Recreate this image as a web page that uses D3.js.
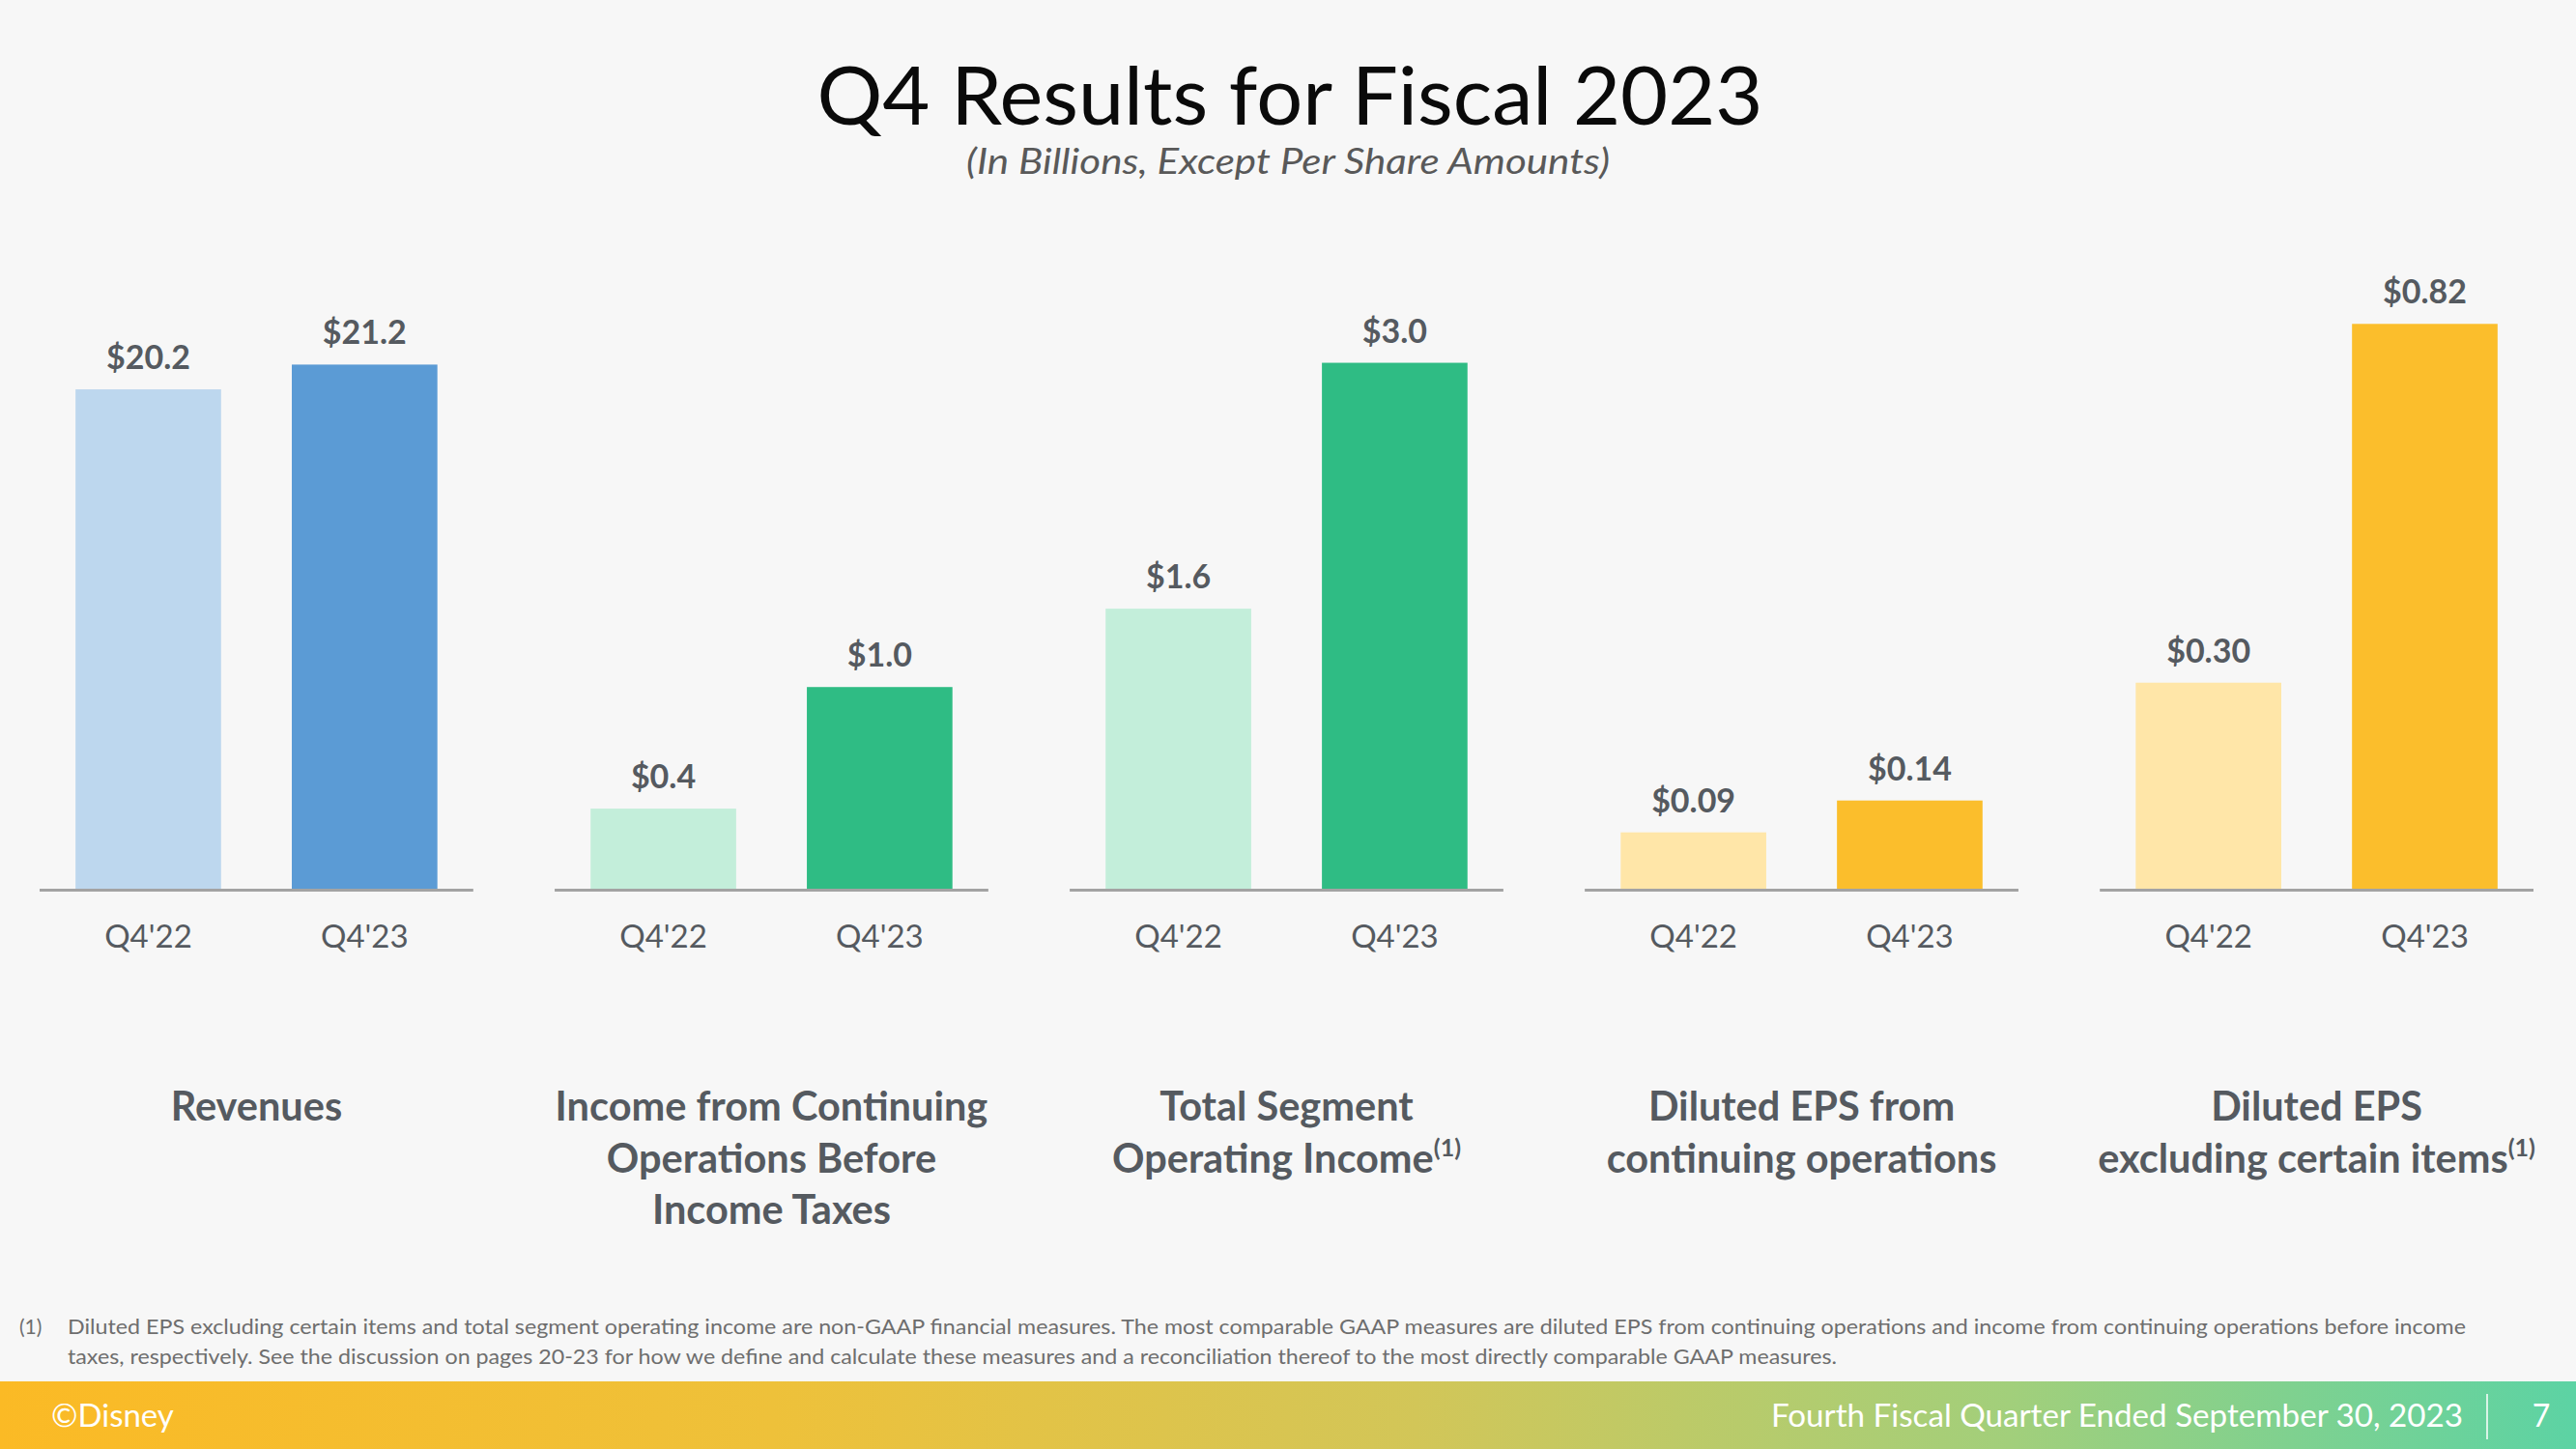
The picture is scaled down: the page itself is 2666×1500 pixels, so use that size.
<!DOCTYPE html>
<html>
<head>
<meta charset="utf-8">
<script src="https://cdn.jsdelivr.net/npm/d3@7"></script>
<style>
  html, body { margin: 0; padding: 0; background: #F7F7F7; }
  svg { display: block; }
</style>
</head>
<body>
<svg id="chart" width="2666" height="1500"></svg>
<script>
// ---------- DATA ----------
const periods = ["Q4'22", "Q4'23"];
const panelTitles = [
  ["Revenues"],
  ["Income from Continuing", "Operations Before", "Income Taxes"],
  ["Total Segment", "Operating Income"],
  ["Diluted EPS from", "continuing operations"],
  ["Diluted EPS", "excluding certain items"]
];
const panelFootnoteMark = [false, false, true, false, true];
const valuesQ422 = [20.2, 0.4, 1.6, 0.09, 0.30];
const valuesQ423 = [21.2, 1.0, 3.0, 0.14, 0.82];
const valueDecimals = [1, 1, 1, 2, 2];
// each panel has its own vertical scale in the original slide
const panelScaleMax = [23.4, 2.86, 3.30, 0.91, 0.84];
const lightColors = ["#BDD7EE", "#C3EEDA", "#C3EEDA", "#FFE6A8", "#FFE6A8"];
const darkColors  = ["#5B9BD5", "#2FBC84", "#2FBC84", "#FBBE2C", "#FBBE2C"];

const titleText = "Q4 Results for Fiscal 2023";
const subtitleText = "(In Billions, Except Per Share Amounts)";
const footnoteMark = "(1)";
const footnoteLines = [
  "Diluted EPS excluding certain items and total segment operating income are non-GAAP financial measures. The most comparable GAAP measures are diluted EPS from continuing operations and income from continuing operations before income",
  "taxes, respectively. See the discussion on pages 20-23 for how we define and calculate these measures and a reconciliation thereof to the most directly comparable GAAP measures."
];
const footerLeft = "©Disney";
const footerRight = "Fourth Fiscal Quarter Ended September 30, 2023";
const pageNumber = "7";

// ---------- LAYOUT ----------
const W = 2666, H = 1500;
const svg = d3.select("#chart");
const FONT = "Lato, 'Open Sans', sans-serif";
const TXT = "#555A60";

svg.append("rect").attr("width", W).attr("height", H).attr("fill", "#F7F7F7");

// Title
svg.append("text")
  .attr("x", 1335).attr("y", 129)
  .attr("text-anchor", "middle")
  .attr("font-family", FONT).attr("font-size", 84).attr("font-weight", 400)
  .attr("fill", "#0A0A0A")
  .attr("textLength", 979).attr("lengthAdjust", "spacingAndGlyphs")
  .text(titleText);

svg.append("text")
  .attr("x", 1333).attr("y", 180)
  .attr("text-anchor", "middle")
  .attr("font-family", FONT).attr("font-size", 36).attr("font-style", "italic")
  .attr("fill", "#595959")
  .attr("textLength", 666).attr("lengthAdjust", "spacingAndGlyphs")
  .text(subtitleText);

// Panels
const panelIdx = d3.range(panelTitles.length);
const panelX = d3.scaleBand().domain(panelIdx).range([41, 2622]).paddingInner(0.158).paddingOuter(0);
const baseY = 921;
const plotH = 600;

panelIdx.forEach(i => {
  const g = svg.append("g").attr("transform", `translate(${panelX(i)},0)`);
  const pw = panelX.bandwidth();
  const x = d3.scaleBand().domain(periods).range([0, pw]).paddingInner(0.327).paddingOuter(0.166);
  const y = d3.scaleLinear().domain([0, panelScaleMax[i]]).range([baseY, baseY - plotH]);
  const data = [
    { p: periods[0], v: valuesQ422[i], c: lightColors[i] },
    { p: periods[1], v: valuesQ423[i], c: darkColors[i] }
  ];
  const fmt = d3.format(`.${valueDecimals[i]}f`);

  g.selectAll("rect.bar").data(data).join("rect")
    .attr("class", "bar")
    .attr("x", d => x(d.p))
    .attr("width", x.bandwidth())
    .attr("y", d => y(d.v))
    .attr("height", d => y(0) - y(d.v))
    .attr("fill", d => d.c);

  g.selectAll("text.val").data(data).join("text")
    .attr("class", "val")
    .attr("x", d => x(d.p) + x.bandwidth() / 2)
    .attr("y", d => y(d.v) - 21)
    .attr("text-anchor", "middle")
    .attr("font-family", FONT).attr("font-weight", 700).attr("font-size", 34)
    .attr("fill", TXT)
    .text(d => "$" + fmt(d.v));

  // axis
  const axis = d3.axisBottom(x).tickSize(0).tickPadding(0);
  const ag = g.append("g").attr("transform", `translate(0,${baseY})`).call(axis);
  ag.select(".domain").attr("stroke", "#A3A3A3").attr("stroke-width", 3)
    .attr("d", `M0,0.5H${pw}`);
  ag.selectAll(".tick text")
    .attr("y", 60).attr("dy", 0)
    .attr("font-family", FONT).attr("font-size", 33).attr("fill", TXT);

  // panel title
  const lines = panelTitles[i];
  const t = g.append("text")
    .attr("text-anchor", "middle")
    .attr("font-family", FONT).attr("font-weight", 700).attr("font-size", 41.5)
    .attr("fill", TXT);
  lines.forEach((ln, k) => {
    t.append("tspan").attr("x", pw / 2).attr("y", 1160 + k * 53.5).text(ln);
    if (k === lines.length - 1 && panelFootnoteMark[i]) {
      t.append("tspan").attr("font-size", 25).attr("dy", -17).text("(1)");
    }
  });
});

// Footnote
svg.append("text").attr("x", 20).attr("y", 1381)
  .attr("font-family", FONT).attr("font-size", 21).attr("fill", "#6E6E6E")
  .text(footnoteMark);
footnoteLines.forEach((ln, k) => {
  svg.append("text").attr("x", 70).attr("y", 1381 + k * 31)
    .attr("font-family", FONT).attr("font-size", 21).attr("fill", "#6E6E6E")
    .attr("textLength", k === 0 ? 2482 : 1831).attr("lengthAdjust", "spacingAndGlyphs")
    .text(ln);
});

// Footer band
const defs = svg.append("defs");
const grad = defs.append("linearGradient").attr("id", "footGrad")
  .attr("x1", "0%").attr("x2", "100%").attr("y1", "0%").attr("y2", "0%");
[["0%", "#FBBA25"], ["30%", "#EEC13A"], ["55%", "#D2C658"], ["78%", "#A2CF7B"], ["100%", "#5CD3A4"]]
  .forEach(([o, c]) => grad.append("stop").attr("offset", o).attr("stop-color", c));
svg.append("rect").attr("x", 0).attr("y", 1430).attr("width", W).attr("height", 70).attr("fill", "url(#footGrad)");

svg.append("text").attr("x", 53).attr("y", 1477)
  .attr("font-family", FONT).attr("font-size", 33).attr("fill", "#FFFFFF")
  .text(footerLeft);
svg.append("text").attr("x", 2549).attr("y", 1477)
  .attr("text-anchor", "end")
  .attr("font-family", FONT).attr("font-size", 32).attr("fill", "#FFFFFF")
  .attr("textLength", 716).attr("lengthAdjust", "spacingAndGlyphs")
  .text(footerRight);
svg.append("line").attr("x1", 2574).attr("x2", 2574).attr("y1", 1443).attr("y2", 1490)
  .attr("stroke", "#FFFFFF").attr("stroke-width", 1.5);
svg.append("text").attr("x", 2630).attr("y", 1477)
  .attr("text-anchor", "middle")
  .attr("font-family", FONT).attr("font-size", 32).attr("fill", "#FFFFFF")
  .text(pageNumber);
</script>
</body>
</html>
